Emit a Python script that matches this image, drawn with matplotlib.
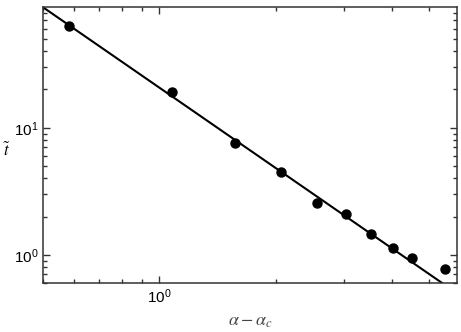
import numpy as np
import matplotlib
matplotlib.use('Agg')
import matplotlib.pyplot as plt
from matplotlib.ticker import LogLocator, FuncFormatter, NullFormatter

plt.rcParams['font.family'] = ['Liberation Sans', 'DejaVu Sans']
plt.rcParams['mathtext.fontset'] = 'stix'

# data
alpha_diff = [0.585, 1.08, 1.57, 2.07, 2.56, 3.04, 3.54, 4.04, 4.52, 5.48]
t_tilde = [63.0, 19.0, 7.62, 4.52, 2.54, 2.08, 1.46, 1.14, 0.947, 0.769]

# power-law fit line: t = A * x^(-k)
fit_amp = 20.7
fit_exp = 2.10

fig = plt.figure(figsize=(4.61, 3.32), dpi=100)
ax = fig.add_axes([0.0933, 0.1476, 0.898, 0.831])

xfit = np.logspace(np.log10(0.5), np.log10(5.9), 100)
ax.plot(xfit, fit_amp * xfit ** (-fit_exp), color='black', lw=1.5)
ax.plot(alpha_diff, t_tilde, 'o', color='black', ms=6.5)

ax.set_xscale('log')
ax.set_yscale('log')
ax.set_xlim(0.5, 5.9)
ax.set_ylim(0.60, 89)

fmt = FuncFormatter(lambda v, p: r'$\mathregular{10^{%d}}$' % round(np.log10(v)))
for axis in (ax.xaxis, ax.yaxis):
    axis.set_major_locator(LogLocator(base=10))
    axis.set_minor_locator(LogLocator(base=10, subs=np.arange(2, 10)))
    axis.set_major_formatter(fmt)
    axis.set_minor_formatter(NullFormatter())

ax.tick_params(which='both', direction='in', top=True, right=True,
               labelsize=11, color='#333333')
ax.tick_params(which='major', length=5, width=1)
ax.tick_params(which='minor', length=3, width=1)
for s in ax.spines.values():
    s.set_linewidth(1.1)
    s.set_color('#333333')

fig.text(7 / 461, 1 - 150 / 332, r'$\tilde{t}$', fontsize=12,
         ha='center', va='center')
fig.text(250 / 461, 1 - 322 / 332, r'$\alpha - \alpha_c$', fontsize=13,
         ha='center', va='center', color='#444444')

fig.savefig('out.png', dpi=100)
